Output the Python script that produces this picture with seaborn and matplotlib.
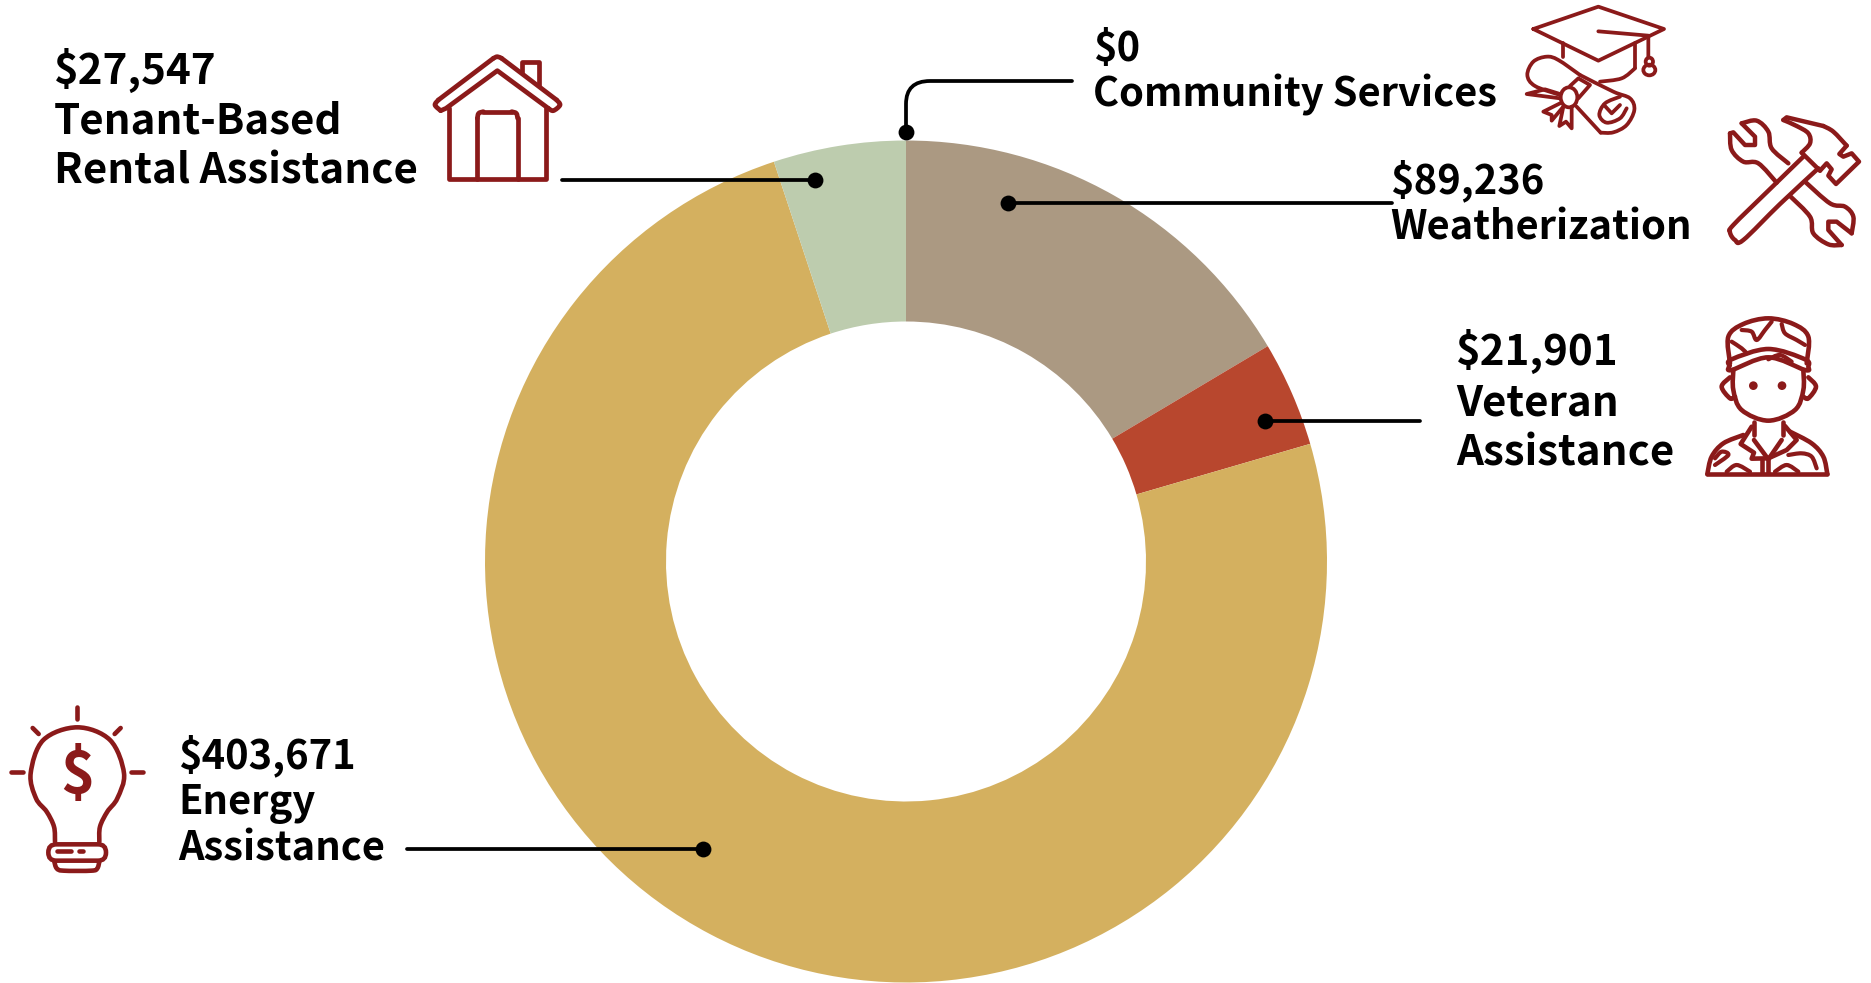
import numpy as np
import matplotlib
matplotlib.use("Agg")
import matplotlib.pyplot as plt
from matplotlib.path import Path
from matplotlib.patches import PathPatch, Ellipse, FancyBboxPatch
import seaborn as sns

# Program spending, clockwise from twelve o'clock
programs = ["Community Services", "Weatherization", "Veteran Assistance",
            "Energy Assistance", "Tenant-Based Rental Assistance"]
amounts = [0, 89236, 21901, 403671, 27547]
slice_colors = ["#8C8C8C", "#AB9982", "#B8472E", "#D4B05F", "#BDCCAE"]

INK = "#8B1A1A"
W, H = 1871, 983

sns.set_theme(style="white")
plt.rcParams["font.family"] = ["Noto Sans CJK SC", "DejaVu Sans"]
palette = sns.color_palette(slice_colors)

fig = plt.figure(figsize=(W / 100, H / 100), dpi=100, facecolor="white")

# Ring
cx, cy, R = 906, 561.5, 421
ax = fig.add_axes([(cx - R) / W, 1 - (cy + R) / H, 2 * R / W, 2 * R / H])
ax.pie(amounts, colors=palette, startangle=90, counterclock=False, radius=1,
       wedgeprops=dict(width=181 / 421, linewidth=0))
ax.set_xlim(-1, 1)
ax.set_ylim(-1, 1)
ax.set_aspect("equal")

# Overlay in pixel units for leaders, labels and pictograms
ov = fig.add_axes([0, 0, 1, 1], facecolor="none")
ov.set_xlim(0, W)
ov.set_ylim(H, 0)
ov.axis("off")

# Leader lines
LW = 2.7
LEAD = dict(color="black", lw=LW, solid_capstyle="round", zorder=5)
ov.plot([562, 815], [179.5, 179.5], **LEAD)
ov.plot([1008, 1392], [203, 203], **LEAD)
ov.plot([1265, 1420], [421, 421], **LEAD)
ov.plot([407, 703], [848.5, 848.5], **LEAD)
corner = Path([(906, 132), (906, 104), (906, 81), (930, 81), (1072, 81)],
              [Path.MOVETO, Path.LINETO, Path.CURVE3, Path.CURVE3, Path.LINETO])
ov.add_patch(PathPatch(corner, fc="none", ec="black", lw=LW, capstyle="round", zorder=5))
ov.scatter([906, 815, 1008, 1265, 703], [132, 179.5, 203, 421, 848.5],
           s=130, color="black", linewidths=0, zorder=6)

# Value and name labels
def label(x, ys, lines, size):
    for y, s in zip(ys, lines):
        ov.text(x, y, s, fontsize=size, fontweight="bold", color="black",
                ha="left", va="center", zorder=7)

label(1093, [49, 95], [f"${amounts[0]:,}", "Community Services"], 28.7)
label(1390, [181, 228], [f"${amounts[1]:,}", "Weatherization"], 28.7)
label(1456, [351, 403, 453], [f"${amounts[2]:,}", "Veteran", "Assistance"], 30.3)
label(178.5, [756, 803, 849], [f"${amounts[3]:,}", "Energy", "Assistance"], 28.7)
label(54, [70, 121, 171], [f"${amounts[4]:,}", "Tenant-Based", "Rental Assistance"], 30.3)


def smooth_path(pts, closed=False):
    """Catmull-Rom curve through pts, returned as a bezier Path."""
    p = np.asarray(pts, float)
    n = len(p)
    verts = [p[0]]
    codes = [Path.MOVETO]
    last = n if closed else n - 1
    for i in range(last):
        if closed:
            p0, p1, p2, p3 = p[(i - 1) % n], p[i], p[(i + 1) % n], p[(i + 2) % n]
        else:
            p0, p1, p2, p3 = p[max(i - 1, 0)], p[i], p[i + 1], p[min(i + 2, n - 1)]
        verts += [p1 + (p2 - p0) / 6, p2 - (p3 - p1) / 6, p2]
        codes += [Path.CURVE4] * 3
    return Path(verts, codes)


class Icon:
    """Pictogram stroked in pixel space from a local coordinate grid (3 units = 1 px)."""

    def __init__(self, x0, y0, lw=2.6):
        self.x0, self.y0, self.lw = x0, y0, lw

    def xy(self, pts):
        return [(self.x0 + x / 3, self.y0 + y / 3) for x, y in pts]

    def line(self, *pts, closed=False, lw=None):
        p = self.xy(pts)
        if closed:
            p = p + [p[0]]
        ov.plot(*zip(*p), color=INK, lw=lw or self.lw, solid_joinstyle="round",
                solid_capstyle="round", zorder=4)

    def curve(self, *pts, closed=False, lw=None):
        ov.add_patch(PathPatch(smooth_path(self.xy(pts), closed), fc="none", ec=INK,
                               lw=lw or self.lw, capstyle="round", joinstyle="round", zorder=4))

    def oval(self, x, y, rx, ry, fill=False, lw=None):
        cxy = self.xy([(x, y)])[0]
        ov.add_patch(Ellipse(cxy, 2 * rx / 3, 2 * ry / 3, fc=INK if fill else "none",
                             ec=INK, lw=0 if fill else (lw or self.lw), zorder=4))


# Graduation cap and diploma
cap = Icon(1480, 0, lw=2.7)
cap.line((160, 87), (355, 20), (552, 87), (355, 182), closed=True)
cap.line((355, 94), (505, 107), (505, 170))
cap.oval(508, 185, 11, 12)
cap.oval(508, 210, 18, 16)
cap.line((248, 128), (248, 170))
cap.line((465, 130), (465, 205))
cap.curve((465, 205), (425, 235), (360, 245))
cap.curve((240, 285), (165, 258), (142, 225), (160, 185), (200, 170), (235, 180), (300, 225))
cap.curve((300, 225), (400, 275), (450, 295), (463, 330), (440, 375), (400, 397), (362, 398))
cap.line((362, 398), (290, 320))
cap.curve((420, 290), (375, 310), (358, 345), (380, 368), (420, 355), (440, 325))
cap.line((372, 315), (395, 340), (420, 315))
cap.oval(267, 292, 25, 30)
cap.line((270, 258), (295, 235), (330, 255), (295, 295))
cap.line((240, 295), (140, 282), (195, 268), (240, 282))
cap.line((240, 310), (190, 335), (215, 345), (215, 362), (250, 320))
cap.line((250, 320), (238, 378), (258, 365), (275, 385), (275, 320))

# Crossed wrench and hammer
tools = Icon(1480, 0, lw=3.2)
tools.curve((970, 470), (865, 572), (760, 675), (750, 697), (765, 720), (790, 720), (900, 612), (1015, 505))
tools.line((965, 458), (1020, 512))
tools.curve((965, 458), (990, 430), (985, 400), (950, 378), (910, 360))
tools.line((910, 360), (920, 352), (1030, 378))
tools.curve((1030, 378), (1060, 395), (1100, 437))
tools.line((1100, 437), (1078, 462), (1090, 470), (1115, 460), (1137, 485), (1068, 552),
           (1045, 527), (1055, 508), (1040, 490), (1020, 512))
tools.curve((890, 548), (835, 490), (790, 485), (755, 450), (750, 400))
tools.line((750, 400), (760, 397), (795, 435), (825, 435), (825, 410), (785, 370))
tools.curve((785, 370), (830, 362), (865, 395), (875, 445), (925, 490))
tools.curve((932, 590), (990, 650), (1000, 700), (1045, 733), (1085, 735))
tools.line((1085, 735), (1045, 690), (1045, 665), (1070, 665), (1115, 700))
tools.curve((1115, 700), (1120, 650), (1095, 620), (1050, 610), (975, 545))

# Soldier in camouflage
vet = Icon(1680, 300, lw=3.3)
vet.curve((150, 190), (145, 110), (190, 72), (265, 55), (340, 72), (385, 110), (380, 190))
vet.curve((148, 197), (155, 178), (265, 147), (375, 178), (385, 200), (375, 210), (265, 172),
          (155, 210), closed=True)
vet.curve((150, 232), (125, 260), (150, 295), (165, 290))
vet.curve((385, 232), (408, 260), (385, 295), (370, 290))
vet.curve((160, 210), (160, 270), (185, 330), (265, 362), (345, 330), (370, 270), (370, 210))
vet.oval(220, 257, 13, 13, fill=True)
vet.oval(306, 257, 13, 13, fill=True)
vet.line((222, 365), (222, 405))
vet.line((310, 365), (310, 405))
vet.line((82, 522), (442, 522))
vet.curve((82, 522), (95, 470), (130, 430), (190, 405))
vet.curve((442, 522), (430, 470), (395, 430), (330, 395))
vet.line((215, 380), (182, 432), (222, 458), (215, 476), (265, 475), (320, 450), (350, 420), (315, 378))
vet.line((222, 420), (265, 478), (305, 420))
vet.line((245, 478), (245, 520))
vet.line((265, 478), (265, 520))
# camouflage patches
camo = 3.0
vet.curve((185, 90), (215, 95), (230, 120), (255, 90), (275, 65), lw=camo)
vet.curve((305, 72), (315, 100), (350, 120), (375, 135), lw=camo)
vet.curve((155, 125), (185, 145), (200, 160), lw=camo)
vet.curve((265, 178), (300, 165), (335, 185), lw=camo)
vet.curve((105, 475), (125, 455), (145, 465), (105, 495), lw=camo)
vet.curve((140, 515), (170, 495), (210, 515), lw=camo)
vet.curve((285, 515), (320, 495), (355, 515), lw=camo)
vet.curve((325, 465), (365, 460), (395, 470), (410, 505), lw=camo)

# Light bulb with a dollar sign
bulb = Icon(0, 690, lw=3.3)
bulb.curve((165, 455), (162, 410), (140, 365), (108, 325), (92, 250), (130, 150), (232, 112),
           (330, 150), (372, 250), (352, 325), (322, 365), (300, 410), (298, 455))
bulb.line((231, 50), (231, 88))
bulb.line((98, 114), (116, 132))
bulb.line((362, 114), (344, 132))
bulb.line((32, 245), (68, 245))
bulb.line((393, 245), (430, 245))
ov.add_patch(FancyBboxPatch((145 / 3 + 8, 690 + 463 / 3 + 8), (173 / 3) - 16, (49 / 3) - 16,
                            boxstyle="round,pad=8", fc="none", ec=INK, lw=3.3, zorder=4))
bulb.curve((163, 515), (170, 535), (190, 542), (275, 542), (292, 535), (298, 515))
bulb.line((170, 482), (212, 482))
bulb.line((237, 482), (250, 482))
ov.text(232 / 3, 690 + 260 / 3, "$", fontsize=42, fontweight="black", color=INK,
        ha="center", va="center", zorder=4)

# House
home = Icon(420, 40, lw=3.4)
home.curve((62, 212), (45, 195), (55, 180))
home.line((55, 180), (220, 55))
home.curve((220, 55), (232, 50), (245, 55))
home.line((245, 55), (410, 180))
home.curve((410, 180), (420, 195), (400, 212), (385, 205))
home.line((385, 205), (232, 92), (78, 205), (62, 212))
home.line((87, 205), (87, 418), (378, 418), (378, 205))
home.line((172, 418), (172, 235))
home.curve((172, 235), (176, 220), (190, 215))
home.line((190, 215), (275, 215))
home.curve((275, 215), (289, 220), (293, 235))
home.line((293, 235), (293, 418))
home.line((305, 95), (305, 65), (357, 65), (357, 135))

fig.savefig("out.png", dpi=100, facecolor="white")
